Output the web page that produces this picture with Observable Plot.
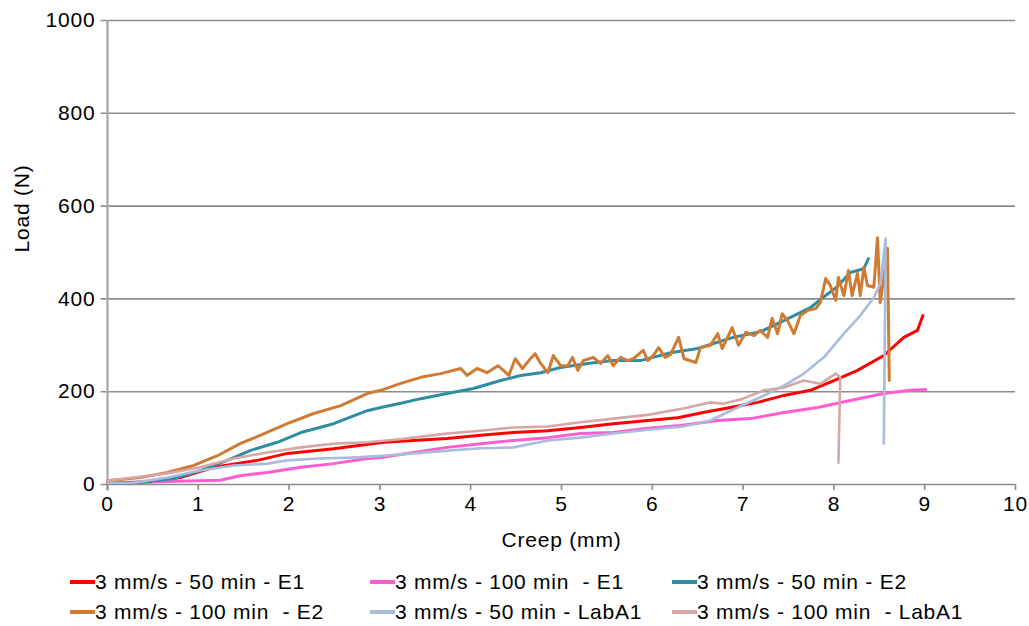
<!DOCTYPE html>
<html>
<head>
<meta charset="utf-8">
<script src="https://cdn.jsdelivr.net/npm/d3@7"></script>
<script src="https://cdn.jsdelivr.net/npm/@observablehq/plot@0.6"></script>
<style>
  html, body { margin: 0; padding: 0; background: #fff; }
  body { width: 1029px; height: 626px; position: relative; overflow: hidden; font-family: "Liberation Sans", Arial, sans-serif; }
  #legend { position: absolute; left: 0; top: 0; width: 1029px; height: 626px; pointer-events: none; }
  .item { position: absolute; display: flex; align-items: center; font-size: 21px; letter-spacing: 0.75px; color: #000; white-space: pre; }
  .swatch { display: inline-block; width: 25px; height: 4px; }
  svg text { letter-spacing: 0.8px; }
</style>
</head>
<body>
<div id="chart"></div>
<div id="legend"></div>
<script>
// ---- Data ----
const seriesNames = [
  "3 mm/s - 50 min - E1",
  "3 mm/s - 100 min  - E1",
  "3 mm/s - 50 min - E2",
  "3 mm/s - 100 min  - E2",
  "3 mm/s - 50 min - LabA1",
  "3 mm/s - 100 min  - LabA1"
];
const seriesColors = ["#ff0000", "#ff5ccf", "#2f8da3", "#cf7b32", "#a9bcdc", "#d6a7a6"];

const e1_50 = [[0,3],[0.5,6],[0.8,15],[1.17,37],[1.4,44],[1.65,52],[1.98,67],[2.49,77],[3.04,91],[3.37,95],[3.74,99],[4.11,106],[4.47,112],[4.85,116],[5.21,123],[5.57,131],[5.95,138],[6.28,144],[6.56,155],[6.86,166],[7.16,177],[7.45,192],[7.74,203],[8.0,224],[8.26,246],[8.55,278],[8.77,317],[8.92,332],[8.98,364]];
const e1_100 = [[0.5,6],[1.24,9],[1.46,19],[1.76,26],[2.13,37],[2.49,45],[2.86,56],[3.01,58],[3.37,69],[3.74,80],[4.11,88],[4.47,95],[4.85,101],[5.21,110],[5.57,112],[5.95,121],[6.31,127],[6.72,138],[7.08,142],[7.45,155],[7.82,166],[8.18,181],[8.55,196],[8.84,203],[9.01,205]];
const e2_50 = [[0,3],[0.29,4],[0.73,13],[1.02,30],[1.32,52],[1.57,73],[1.87,91],[2.13,112],[2.49,131],[2.86,159],[3.01,166],[3.23,175],[3.45,185],[3.74,196],[4.03,207],[4.33,224],[4.55,235],[4.77,241],[4.99,252],[5.29,261],[5.57,267],[5.87,267],[6.2,284],[6.5,293],[6.89,317],[7.2,330],[7.45,353],[7.74,381],[7.88,403],[8.03,425],[8.18,457],[8.33,465],[8.38,487]];
const e2_100 = [[0,8],[0.36,15],[0.66,26],[0.95,41],[1.21,62],[1.46,88],[1.68,106],[1.98,131],[2.27,153],[2.57,170],[2.86,196],[3.01,203],[3.23,218],[3.45,231],[3.67,239],[3.89,250],[3.96,235],[4.07,250],[4.18,241],[4.30,256],[4.36,246],[4.42,235],[4.49,271],[4.57,250],[4.64,267],[4.71,282],[4.77,261],[4.85,241],[4.91,278],[4.99,256],[5.07,256],[5.12,274],[5.18,246],[5.24,267],[5.35,274],[5.43,261],[5.51,278],[5.57,256],[5.65,274],[5.73,267],[5.79,271],[5.90,289],[5.95,267],[6.01,278],[6.07,295],[6.14,274],[6.20,280],[6.29,317],[6.35,271],[6.48,263],[6.53,295],[6.64,300],[6.72,325],[6.77,293],[6.88,338],[6.95,300],[7.03,328],[7.12,321],[7.19,332],[7.27,317],[7.32,358],[7.38,325],[7.43,368],[7.49,353],[7.56,325],[7.63,364],[7.71,375],[7.80,379],[7.85,392],[7.91,444],[7.96,429],[8.02,397],[8.05,446],[8.11,407],[8.16,461],[8.20,407],[8.26,455],[8.29,407],[8.33,468],[8.37,429],[8.44,425],[8.48,532],[8.51,392],[8.55,446],[8.59,509],[8.61,224]];
const laba1_50 = [[0,3],[0.29,4],[0.66,15],[1.02,30],[1.39,41],[1.76,45],[1.98,52],[2.31,56],[2.68,58],[3.04,62],[3.37,67],[3.74,73],[4.11,78],[4.47,80],[4.85,95],[5.21,101],[5.57,110],[5.95,118],[6.34,125],[6.64,138],[6.94,166],[7.19,188],[7.45,213],[7.67,239],[7.89,274],[8.11,325],[8.29,364],[8.44,403],[8.51,433],[8.57,530],[8.55,88]];
const laba1_100 = [[0,8],[0.29,15],[0.66,24],[1.02,37],[1.39,56],[1.76,69],[2.13,80],[2.49,88],[2.86,91],[3.19,97],[3.37,101],[3.74,110],[4.11,116],[4.47,123],[4.85,125],[5.21,134],[5.57,142],[5.95,150],[6.34,164],[6.64,177],[6.78,174],[7.0,185],[7.23,203],[7.45,209],[7.67,224],[7.85,217],[8.02,239],[8.07,231],[8.05,47]];

const xTicks = [0,1,2,3,4,5,6,7,8,9,10];
const yTicks = [0,200,400,600,800,1000];
const xLabel = "Creep (mm)";
const yLabel = "Load (N)";

// ---- Build table ----
const seriesData = [e1_50, e1_100, e2_50, e2_100, laba1_50, laba1_100];
const rows = [];
seriesData.forEach((arr, i) => arr.forEach(([x, y], j) => rows.push({series: seriesNames[i], x, y, order: j})));
const widths = [3, 3, 3, 3, 2.6, 2.6];

const font = '"Liberation Sans", Arial, sans-serif';
const chart = Plot.plot({
  width: 1029,
  height: 560,
  marginLeft: 107,
  marginRight: 14,
  marginTop: 20,
  marginBottom: 76,
  style: {fontFamily: font, fontSize: "21px", color: "#000", background: "#fff"},
  x: {domain: [0, 10], ticks: xTicks},
  y: {domain: [0, 1000], ticks: yTicks},
  marks: [
    Plot.gridY(yTicks, {stroke: "#8c8c8c", strokeOpacity: 1, strokeWidth: 1.6, x1: -0.07, x2: 10}),
    Plot.ruleX([0], {y1: -14, y2: 1000, stroke: "#a6a6a6", strokeWidth: 2.2}),
    Plot.axisX({ticks: xTicks, tickSize: 6, tickPadding: 6, stroke: "#8c8c8c", strokeWidth: 1.6, label: null, fontSize: 21, tickFormat: d => String(d)}),
    Plot.axisY({ticks: yTicks, tickSize: 0, tickPadding: 12, label: null, fontSize: 21, tickFormat: d => String(d)}),
    ...seriesNames.map((name, i) => Plot.line(rows.filter(r => r.series === name), {
      x: "x", y: "y", stroke: seriesColors[i], strokeWidth: widths[i], strokeLinejoin: "round", strokeLinecap: "round"
    })),
    Plot.text([xLabel], {frameAnchor: "bottom", dy: 62, fontSize: 21, fill: "#000"}),
    Plot.text([yLabel], {frameAnchor: "left", dx: -85, rotate: -90, fontSize: 21, fill: "#000"})
  ]
});
document.getElementById("chart").appendChild(chart);

// ---- Legend ----
const legendPos = [[70, 582], [370, 582], [672, 582], [70, 612], [370, 612], [672, 612]];
const legend = document.getElementById("legend");
seriesNames.forEach((name, i) => {
  const d = document.createElement("div");
  d.className = "item";
  d.style.left = legendPos[i][0] + "px";
  d.style.top = (legendPos[i][1] - 12) + "px";
  const sw = document.createElement("span");
  sw.className = "swatch";
  sw.style.background = seriesColors[i];
  d.appendChild(sw);
  const t = document.createElement("span");
  t.textContent = name;
  d.appendChild(t);
  legend.appendChild(d);
});
</script>
</body>
</html>
